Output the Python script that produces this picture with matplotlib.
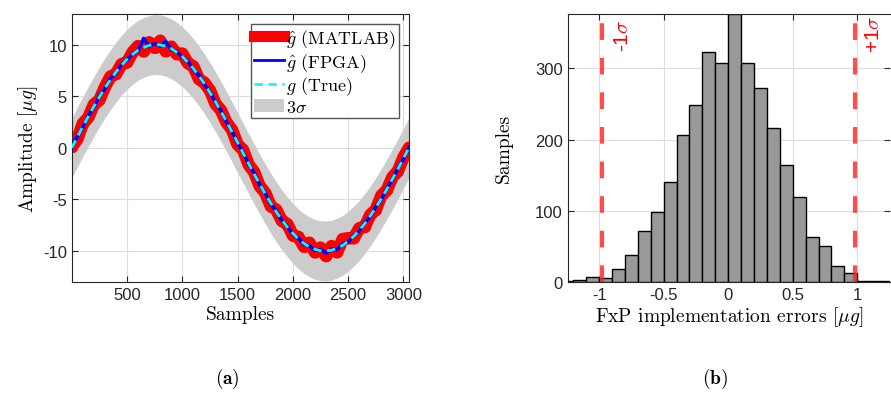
import matplotlib
matplotlib.use('Agg')
import matplotlib.pyplot as plt
from matplotlib.patches import Patch
from matplotlib.lines import Line2D

plt.rcParams['mathtext.fontset'] = 'cm'
plt.rcParams['axes.unicode_minus'] = False
plt.rcParams['font.family'] = 'Liberation Sans'

# (a) time series, every 50 samples
samples = [1, 50, 100, 150, 200, 250, 300, 350, 400, 450, 500, 550, 600, 650, 700, 750,
           800, 850, 900, 950, 1000, 1050, 1100, 1150, 1200, 1250, 1300, 1350, 1400, 1450,
           1500, 1550, 1600, 1650, 1700, 1750, 1800, 1850, 1900, 1950, 2000, 2050, 2100,
           2150, 2200, 2250, 2300, 2350, 2400, 2450, 2500, 2550, 2600, 2650, 2700, 2750,
           2800, 2850, 2900, 2950, 3000, 3050]
g_true = [0.0, 1.03, 2.05, 3.04, 4.00, 4.93, 5.79, 6.60, 7.34, 8.00, 8.57, 9.06, 9.45, 9.73,
          9.92, 10.00, 9.97, 9.84, 9.60, 9.26, 8.83, 8.30, 7.68, 6.97, 6.20, 5.36, 4.46, 3.52,
          2.54, 1.54, 0.51, -0.51, -1.54, -2.55, -3.52, -4.47, -5.36, -6.20, -6.98, -7.68,
          -8.30, -8.83, -9.27, -9.60, -9.84, -9.97, -10.00, -9.92, -9.73, -9.45, -9.06, -8.57,
          -8.00, -7.34, -6.60, -5.79, -4.93, -4.00, -3.04, -2.05, -1.03, 0.0]
g_matlab = [0.1, 0.83, 2.35, 2.94, 4.20, 4.63, 5.89, 6.90, 7.14, 8.10, 8.27, 9.26, 9.85, 9.33,
            10.22, 9.70, 10.37, 9.34, 9.80, 9.06, 9.13, 8.20, 7.88, 6.67, 6.30, 5.56, 4.26,
            3.62, 2.44, 1.74, 0.31, -0.21, -1.64, -2.35, -3.72, -4.37, -5.66, -6.00, -7.08,
            -7.38, -8.50, -8.63, -9.57, -9.20, -10.14, -9.67, -10.50, -9.52, -10.13, -8.85,
            -8.76, -8.77, -7.80, -7.64, -6.50, -5.99, -4.63, -4.10, -2.84, -2.25, -0.93, 0.0]
g_fpga = [0.05, 1.1, 1.95, 3.15, 3.9, 5.05, 5.7, 6.75, 7.25, 8.1, 8.5, 9.15, 9.35, 10.6, 9.8,
          10.1, 9.85, 10.3, 9.5, 9.35, 8.75, 8.4, 7.6, 7.05, 6.1, 5.45, 4.4, 3.6, 2.45, 1.6,
          0.45, -0.45, -1.6, -2.45, -3.6, -4.4, -5.45, -6.1, -7.05, -7.6, -8.4, -8.75, -9.35,
          -9.5, -9.95, -9.85, -10.2, -9.8, -9.85, -9.3, -9.15, -8.5, -8.1, -7.25, -6.7, -5.7,
          -5.0, -3.9, -3.1, -1.95, -1.1, 0.0]
three_sigma = 2.9

# (b) histogram of fixed point errors
bin_left = [-1.3, -1.2, -1.1, -1.0, -0.9, -0.8, -0.7, -0.6, -0.5, -0.4, -0.3, -0.2, -0.1,
            0.0, 0.1, 0.2, 0.3, 0.4, 0.5, 0.6, 0.7, 0.8, 0.9, 1.0, 1.1, 1.2]
counts = [1, 3, 7, 5, 18, 38, 72, 98, 140, 206, 248, 323, 308, 377, 307, 272, 216, 164,
          119, 63, 50, 22, 12, 1, 1, 1]
sigma = 0.98

tick_color = '#262626'
fig = plt.figure(figsize=(8.91, 4.06), dpi=100)

# ---------- (a)
ax1 = fig.add_axes([0.0805, 0.303, 0.379, 0.661])
lo = [v - three_sigma for v in g_true]
hi = [v + three_sigma for v in g_true]
ax1.fill_between(samples, lo, hi, color='#cccccc', lw=0, zorder=1)
ax1.plot(samples, g_matlab, color='red', lw=9, marker='o', ms=7, solid_capstyle='round',
         solid_joinstyle='round', zorder=2)
ax1.plot(samples, g_fpga, color='#0000ff', lw=2.5, zorder=3)
ax1.plot(samples, g_true, color='cyan', lw=2, ls=(0, (3, 2)), zorder=4)
ax1.set_xlim(0, 3054)
ax1.set_ylim(-13, 13)
ax1.set_xticks([500, 1000, 1500, 2000, 2500, 3000])
ax1.set_yticks([-10, -5, 0, 5, 10])
ax1.grid(True, color='#dedede', lw=0.8, zorder=0)
ax1.set_axisbelow(True)
ax1.set_xlabel('Samples', family='cmr10', fontsize=14, labelpad=2)
ax1.set_ylabel(r'Amplitude [$\mu g$]', family='cmr10', fontsize=14, labelpad=2)

handles = [Line2D([], [], color='red', lw=8),
           Line2D([], [], color='#0000ff', lw=2),
           Line2D([], [], color='cyan', lw=2, ls=(0, (3, 2))),
           Patch(facecolor='#cccccc', edgecolor='none')]
labels = [r'$\hat{g}$ (MATLAB)', r'$\hat{g}$ (FPGA)', r'$g$ (True)', r'$3\sigma$']
leg = ax1.legend(handles, labels, loc='upper right', bbox_to_anchor=(0.969, 0.963),
                 prop={'family': 'cmr10', 'size': 13}, frameon=True, fancybox=False,
                 framealpha=1, edgecolor='#555555', handlelength=1.65, handleheight=0.8,
                 handletextpad=0.08, labelspacing=0.06, borderpad=0.2, borderaxespad=0)
leg.get_frame().set_linewidth(1.0)

# ---------- (b)
ax2 = fig.add_axes([0.637, 0.303, 0.362, 0.661])
ax2.bar(bin_left, counts, width=0.1, align='edge', color='#999999', edgecolor='black',
        lw=1, zorder=2)
ax2.set_xlim(-1.245, 1.255)
ax2.set_ylim(0, 377)
ax2.set_xticks([-1, -0.5, 0, 0.5, 1])
ax2.set_xticklabels(['-1', '-0.5', '0', '0.5', '1'])
ax2.set_yticks([0, 100, 200, 300])
ax2.grid(True, color='#dedede', lw=0.8, zorder=0)
ax2.set_axisbelow(True)
for s in (-sigma, sigma):
    ax2.plot([s, s], [0, 377], color='#ff2020', alpha=0.8, lw=3,
             ls=(0, (4, 4.3)), zorder=3, clip_on=False)
ax2.text(-sigma + 0.16, 370, r'-1$\sigma$', color='red', rotation=90, fontsize=15,
         ha='center', va='top', family='Liberation Sans')
ax2.text(sigma + 0.15, 376, r'+1$\sigma$', color='red', rotation=90, fontsize=15,
         ha='center', va='top', family='Liberation Sans')
ax2.set_xlabel(r'FxP implementation errors [$\mu g$]', family='cmr10', fontsize=14, labelpad=2)
ax2.set_ylabel('Samples', family='cmr10', fontsize=14, labelpad=16)
ax2.spines['right'].set_visible(False)

for ax in (ax1, ax2):
    ax.tick_params(direction='in', length=4, width=0.8, colors=tick_color,
                   labelsize=12, top=True, right=True)
    for sp in ax.spines.values():
        sp.set_color(tick_color)
        sp.set_linewidth(0.8)

fig.text(0.255, 0.055, r'($\mathbf{a}$)', family='cmr10', fontsize=14, ha='center')
fig.text(0.802, 0.055, r'($\mathbf{b}$)', family='cmr10', fontsize=14, ha='center')

fig.savefig('out.png', dpi=100)
